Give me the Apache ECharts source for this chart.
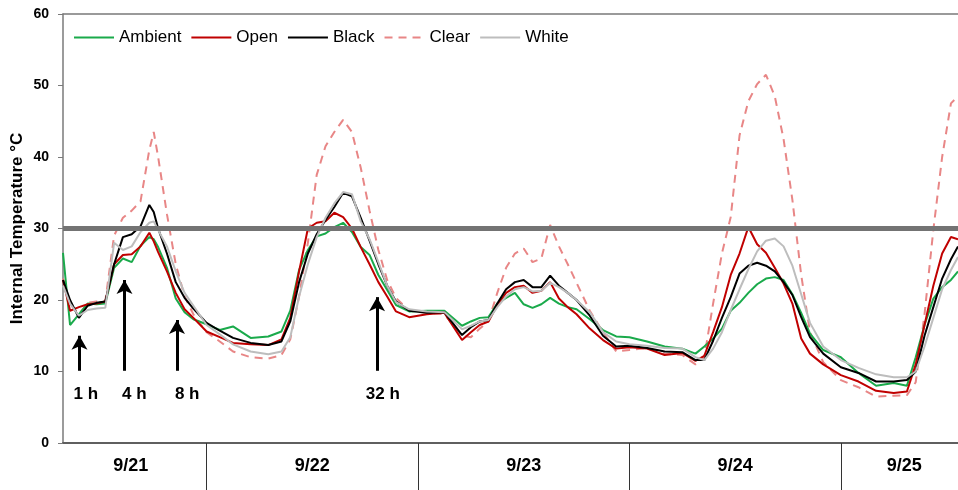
<!DOCTYPE html>
<html>
<head>
<meta charset="utf-8">
<script src="https://cdn.jsdelivr.net/npm/echarts@6/dist/echarts.min.js"></script>
<style>
html,body{margin:0;padding:0;background:#fff;}
#chart{width:958px;height:490px;}
</style>
</head>
<body>
<div id="chart"></div>
<script>
// Time in hours since 9/21 00:00
const hours = [7.7, 8.5, 9.5, 10.5, 11.5, 12.5, 13.5, 14.5, 15.5, 16.5,
  17.5, 18.0, 18.5, 19.5, 20.5, 21.5, 22.5, 24, 25.5, 27,
  29, 31, 32.5, 33.5, 34.5, 35.5, 36.5, 37.5, 38.5, 39.5,
  40.5, 41.5, 42.5, 43.5, 44.5, 45.5, 47, 49, 51, 53,
  54, 55, 56, 57, 58, 59, 60, 61, 62, 63,
  64, 65, 66, 67.5, 69, 70.5, 72, 74, 76, 78,
  79.5, 80.5, 81.5, 82.5, 83.5, 84.5, 85.5, 86.5, 87.5, 88.5,
  89.5, 90.5, 91.5, 92.5, 94, 96, 98, 100, 102, 103.5,
  104.5, 105.5, 106.5, 107.5, 108.5, 109.3];

const ambient = [26.6, 16.5, 18, 19.5, 19.4, 19.5, 24.5, 25.8, 25.3, 27.6,
  28.8, 28.5, 27.4, 24.5, 20.2, 18.3, 17.3, 16.6, 15.8, 16.3,
  14.7, 14.9, 15.6, 18.5, 24.2, 27, 28.9, 29.3, 30.2, 30.8,
  29.5, 27.4, 26.3, 23.5, 21.4, 19.3, 18.4, 18.5, 18.5, 16.4,
  17.0, 17.5, 17.6, 19.5, 20.3, 21, 19.4, 18.9, 19.4, 20.3,
  19.5, 19, 18.7, 17.3, 15.8, 14.9, 14.8, 14.2, 13.5, 13.2,
  12.5, 13.5, 14.6, 16, 18.5, 19.6, 21, 22.2, 23, 23.2,
  22.8, 20.8, 18.2, 15.3, 13, 12, 9.8, 8.0, 8.4, 8.0,
  12, 16.5, 20.2, 21.8, 22.8, 24];

const open = [22.8, 18.5, 19, 19.4, 19.5, 19.8, 25, 26.3, 26.4, 27.5,
  29.4, 28.2, 26.7, 24, 21, 18.7, 17.5, 15.6, 14.8, 14,
  13.8, 13.7, 14.5, 17.5, 24, 30, 30.8, 31, 32.2, 31.6,
  30, 27.4, 25, 22.5, 20.5, 18.4, 17.6, 18, 18.2, 14.4,
  15.5, 16.5, 17, 19.3, 21, 21.8, 22, 21, 21.3, 22.5,
  20.2, 19, 18, 16, 14.4, 13.2, 13.4, 13.2, 12.3, 12.6,
  11.5, 12.2, 15.5, 19, 23.5, 26.5, 30.2, 27.8, 26.6, 24.5,
  22.3, 19.5, 14.6, 12.5, 11, 9.5, 8.6, 7.3, 7, 7.2,
  11, 16.5, 22, 26.5, 28.8, 28.5];

const black = [22.8, 20, 17.5, 19.2, 19.6, 19.8, 25, 28.8, 29.2, 30.3,
  33.3, 32.3, 30, 26.5, 22.5, 20.3, 18.8, 16.8, 15.7, 14.7,
  14, 13.7, 14.2, 17, 22.5, 26.5, 29.2, 31.2, 33, 35,
  34.5, 31.5, 28.3, 25, 22, 19.8, 18.5, 18.2, 18.3, 15.1,
  16.2, 17, 17.2, 19.5, 21.5, 22.5, 22.8, 21.8, 21.8, 23.4,
  22, 21, 20, 17.8, 15, 13.5, 13.6, 13.3, 12.8, 12.7,
  11.6, 11.6, 14.3, 17.5, 20.4, 23.7, 24.8, 25.2, 24.8, 24,
  22.5, 20.7, 17.6, 14.8, 12.5, 10.6, 9.8, 8.6, 8.6, 8.8,
  10, 15, 19, 23, 25.7, 27.5];

const clear = [23, 19.5, 18, 19.6, 19.8, 19.8, 29, 31.5, 32.5, 33.8,
  41, 43.5, 40, 32, 25, 20.5, 18, 15.5, 14.2, 12.8,
  12, 11.8, 12.3, 14.5, 20.5, 28, 37.5, 41.5, 43.5, 45.2,
  43.5, 38.5, 32.5, 27, 22.8, 20.3, 18.5, 18.2, 18, 15,
  14.8, 16, 17, 21, 24.5, 26.5, 27.2, 25.3, 25.8, 30.5,
  27.5, 25, 22.4, 18.5, 15.5, 12.8, 13, 13.3, 12.5, 12.3,
  11, 12, 19.5, 26.5, 31.6, 43, 47.8, 50.2, 51.5, 48.5,
  42.5, 34, 23.5, 15.5, 11.3, 8.8, 7.8, 6.5, 6.6, 6.7,
  8.5, 18, 29.8, 40, 47.5, 48.5];

const white = [22, 19.5, 17.8, 18.6, 18.8, 18.9, 28, 27, 27.5, 29.5,
  30.8, 31, 29.8, 27.5, 24, 21, 19.2, 16.5, 15.2, 13.8,
  12.8, 12.4, 12.8, 14.8, 20.5, 25, 28.8, 31.5, 33.5, 35.1,
  34.8, 31, 28.5, 25.3, 22, 19.7, 18.7, 18.4, 18.3, 15.9,
  16.4, 17, 17.2, 19, 20.5, 21.5, 21.8, 21.2, 21.3, 22.4,
  21.8, 21, 20, 18.3, 15.5, 14.2, 13.8, 13.6, 13.3, 13.2,
  12, 11.6, 13.2, 15.5, 18.6, 21.5, 24.3, 26.8, 28.3, 28.6,
  27.5, 24.8, 20.8, 16.8, 13.5, 11.6, 10.5, 9.6, 9.2, 9.2,
  10, 13.5, 17.5, 21.5, 24.2, 26];

const seriesNames = ['Ambient', 'Open', 'Black', 'Clear', 'White'];
const dayLabels = ['9/21', '9/22', '9/23', '9/24', '9/25'];
const dayLabelHours = [15.4, 36, 60, 84, 103.2];
const dayBoundaries = [24, 48, 72, 96];
const yTicks = [0, 10, 20, 30, 40, 50, 60];
const limitTemp = 30;
const arrowLabels = ['1 h', '4 h', '8 h', '32 h'];
const arrowHours = [9.57, 14.68, 20.64, 43.35];
const arrowTipTemps = [15, 22.8, 17.2, 20.4];
const arrowBaseTemp = 10.1;
const arrowLabelHours = [10.3, 15.8, 21.8, 44.0];
const arrowLabelTemp = 6.8;

const zip = (vals) => hours.map((h, i) => [h, vals[i]]);
const FONT = '"Liberation Sans", Arial, sans-serif';

const chart = echarts.init(document.getElementById('chart'), null, {renderer: 'canvas'});

function lineSeries(name, vals, color, extra) {
  return Object.assign({
    name: name,
    type: 'line',
    data: zip(vals),
    showSymbol: false,
    symbol: 'none',
    smooth: false,
    lineStyle: {color: color, width: 2},
    itemStyle: {color: color},
    z: 3
  }, extra || {});
}

const option = {
  animation: false,
  backgroundColor: '#fff',
  grid: {left: 63, right: 0, top: 14, bottom: 47, containLabel: false, outerBoundsMode: 'none'},
  legend: {
    data: seriesNames,
    left: 68, top: 24,
    itemWidth: 40, itemHeight: 14, itemGap: 9,
    itemStyle: {opacity: 0},
    textStyle: {fontSize: 17, color: '#000', fontFamily: FONT}
  },
  xAxis: [{
    type: 'value',
    min: 7.7, max: 109.3,
    position: 'bottom',
    axisLine: {show: true, lineStyle: {color: '#5f5f5f', width: 2}},
    splitLine: {show: false},
    axisTick: {show: true, customValues: dayBoundaries, length: 48, lineStyle: {color: '#333', width: 1}},
    axisLabel: {
      show: true, customValues: dayLabelHours, margin: 14,
      fontSize: 18, fontWeight: 'bold', color: '#000', fontFamily: FONT,
      formatter: function (v) {
        const i = dayLabelHours.findIndex(x => Math.abs(x - v) < 0.01);
        return i >= 0 ? dayLabels[i] : '';
      }
    }
  }, {
    type: 'value',
    min: 7.7, max: 109.3,
    position: 'top',
    axisLine: {show: true, lineStyle: {color: '#7a7a7a', width: 1.5}},
    axisTick: {show: false},
    axisLabel: {show: false},
    splitLine: {show: false}
  }],
  yAxis: {
    type: 'value',
    min: 0, max: 60, interval: 10,
    name: 'Internal Temperature °C',
    nameLocation: 'middle',
    nameGap: 37,
    nameMoveOverlap: false,
    nameTextStyle: {fontSize: 17, fontWeight: 'bold', color: '#000', fontFamily: FONT},
    axisLine: {show: true, lineStyle: {color: '#7a7a7a', width: 1.5}},
    axisTick: {show: true, inside: false, length: 5, lineStyle: {color: '#7a7a7a'}},
    axisLabel: {fontSize: 14, fontWeight: 'bold', color: '#000', margin: 14, fontFamily: FONT,
      formatter: function (v) { return yTicks.indexOf(v) >= 0 ? String(v) : ''; }},
    splitLine: {show: false}
  },
  series: [
    {
      name: 'limit', type: 'line', data: [], z: 1, silent: true,
      markLine: {
        silent: true, symbol: ['none', 'none'], label: {show: false},
        lineStyle: {color: '#737373', width: 5, type: 'solid'},
        data: [{yAxis: limitTemp}]
      }
    },
    lineSeries('Clear', clear, '#e88686', {lineStyle: {color: '#e88686', width: 2, type: [8, 6]}}),
    lineSeries('Ambient', ambient, '#1aaa4b'),
    lineSeries('Open', open, '#c00000'),
    lineSeries('Black', black, '#000000'),
    lineSeries('White', white, '#bdbdbd'),
    {
      name: 'arrows', type: 'line', data: [], z: 6, silent: true,
      markLine: {
        silent: true,
        symbol: ['none', 'arrow'],
        symbolSize: [12, 14],
        label: {show: false},
        lineStyle: {color: '#000', width: 3, type: 'solid'},
        data: arrowHours.map((h, i) => [{coord: [h, arrowBaseTemp]}, {coord: [h, arrowTipTemps[i]]}])
      }
    },
    {
      name: 'arrowLabels', type: 'scatter', z: 6, silent: true,
      symbolSize: 0,
      itemStyle: {color: '#000', opacity: 1},
      data: arrowLabelHours.map((h, i) => ({value: [h, arrowLabelTemp], name: arrowLabels[i]})),
      label: {show: true, position: 'inside', formatter: p => p.name,
        fontSize: 17, fontWeight: 'bold', color: '#000', textBorderWidth: 0, fontFamily: FONT}
    }
  ]
};
chart.setOption(option);
</script>
</body>
</html>
